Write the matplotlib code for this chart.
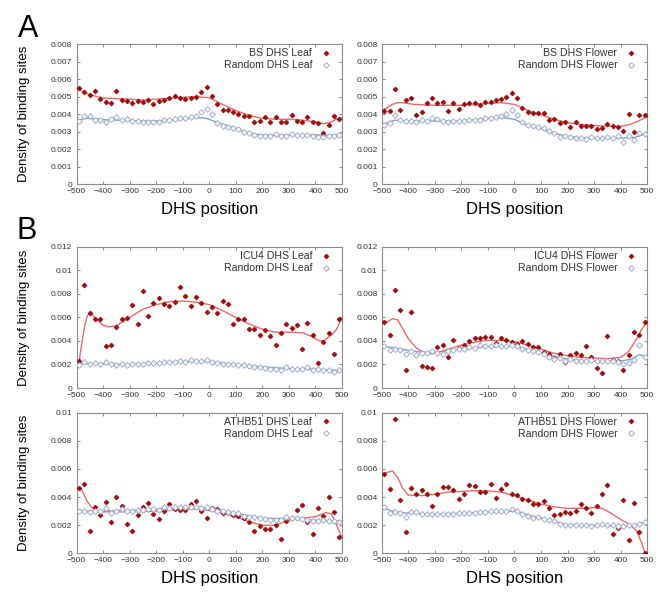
import numpy as np
import matplotlib.pyplot as plt

plt.rcParams['font.family'] = ['Liberation Sans', 'DejaVu Sans']

# positions of the binned points (bp relative to DHS centre)
pos = np.arange(-490, 500, 20)

# ---- panel A, leaf ----
bs_leaf = [5.50, 5.24, 5.10, 5.33, 4.88, 4.69, 4.65, 5.33, 4.82, 4.74,
           4.65, 4.76, 4.70, 4.82, 4.55, 4.76, 4.82, 4.91, 5.03, 4.93,
           4.88, 4.93, 4.97, 5.24, 5.56, 5.05, 4.57, 4.25, 4.25, 4.13,
           4.02, 3.89, 3.89, 3.56, 3.62, 3.83, 3.56, 3.81, 3.52, 3.52,
           3.92, 3.62, 3.52, 3.81, 3.52, 3.47, 2.91, 3.37, 3.90, 3.71]
rnd_leaf_a = [3.62, 3.87, 3.90, 3.66, 3.66, 3.56, 3.70, 3.83, 3.64, 3.71,
              3.62, 3.60, 3.54, 3.54, 3.52, 3.56, 3.64, 3.68, 3.70, 3.75,
              3.79, 3.83, 3.86, 4.10, 4.30, 3.98, 3.50, 3.31, 3.24, 3.20,
              3.14, 2.97, 2.90, 2.78, 2.72, 2.72, 2.74, 2.84, 2.74, 2.72,
              2.88, 2.80, 2.80, 2.82, 2.76, 2.69, 2.67, 2.72, 2.74, 2.80]
bs_leaf_fit_x = [-500, -450, -400, -350, -300, -250, -200, -150, -100, -50, 0, 25, 50, 100,
                 150, 200, 250, 300, 350, 400, 430, 460, 480, 500]
bs_leaf_fit = [5.45, 5.1, 4.92, 4.88, 4.85, 4.8, 4.85, 4.9, 4.95, 5.0, 4.92, 4.75, 4.55, 4.2,
               3.92, 3.75, 3.7, 3.7, 3.65, 3.55, 3.45, 3.55, 3.72, 3.78]
rnd_leaf_a_fit_x = [-500, -460, -420, -400, -300, -200, -100, -50, -20, 0, 25, 50, 75, 100,
                    130, 175, 200, 300, 400, 450, 500]
rnd_leaf_a_fit = [3.65, 3.75, 3.72, 3.68, 3.62, 3.6, 3.7, 3.8, 3.78, 3.7, 3.55, 3.42, 3.3, 3.17,
                  3.0, 2.85, 2.8, 2.8, 2.8, 2.78, 2.8]

# ---- panel A, flower ----
bs_flower = [4.19, 4.17, 5.41, 4.23, 4.78, 4.90, 3.96, 4.10, 4.65, 4.90,
             4.63, 4.70, 4.17, 4.63, 4.29, 4.55, 4.63, 4.65, 4.51, 4.70,
             4.69, 4.80, 4.86, 4.97, 5.22, 4.91, 4.32, 4.10, 4.04, 4.08,
             4.04, 3.68, 3.70, 3.50, 3.52, 3.26, 3.56, 3.33, 3.33, 3.31,
             3.16, 3.18, 3.43, 3.33, 3.26, 3.03, 4.00, 2.99, 3.94, 3.92]
rnd_flower_a = [3.37, 3.49, 3.92, 3.66, 3.58, 3.58, 3.52, 3.66, 3.62, 3.75,
                3.71, 3.62, 3.56, 3.58, 3.58, 3.62, 3.68, 3.66, 3.68, 3.79,
                3.75, 3.83, 3.90, 4.02, 4.21, 3.94, 3.54, 3.37, 3.31, 3.26,
                3.18, 3.05, 2.91, 2.70, 2.76, 2.69, 2.65, 2.65, 2.59, 2.69,
                2.65, 2.65, 2.69, 2.61, 2.72, 2.42, 2.76, 2.53, 2.93, 2.88]
bs_flower_fit_x = [-500, -480, -460, -440, -420, -380, -300, -200, -100, -50, 0, 50, 100,
                   150, 200, 250, 300, 350, 400, 430, 460, 480, 500]
bs_flower_fit = [4.2, 4.35, 4.55, 4.65, 4.65, 4.55, 4.5, 4.5, 4.6, 4.65, 4.55, 4.2, 3.95,
                 3.7, 3.5, 3.4, 3.35, 3.3, 3.3, 3.38, 3.55, 3.7, 3.85]
rnd_flower_a_fit_x = [-500, -470, -450, -400, -300, -200, -100, -50, 0, 50, 100, 150, 200,
                      250, 300, 350, 400, 450, 480, 500]
rnd_flower_a_fit = [3.4, 3.55, 3.65, 3.6, 3.6, 3.6, 3.75, 3.8, 3.7, 3.35, 3.15, 2.9, 2.72,
                    2.65, 2.65, 2.63, 2.63, 2.65, 2.8, 2.9]

# ---- panel B, ICU4 leaf ----
icu4_leaf = [2.27, 8.74, 6.41, 5.90, 5.90, 3.57, 3.69, 5.22, 5.90, 5.96,
             7.09, 5.48, 8.28, 6.13, 7.23, 7.69, 7.12, 6.95, 7.29, 8.57,
             7.83, 7.01, 7.72, 7.26, 6.47, 6.87, 6.38, 7.38, 7.12, 5.42,
             5.84, 5.90, 5.02, 5.05, 4.51, 4.91, 4.40, 3.63, 4.71, 5.45,
             5.08, 5.39, 3.35, 5.56, 4.48, 2.13, 3.89, 4.71, 2.87, 5.90]
rnd_leaf_b1 = [1.95, 2.25, 2.00, 2.15, 2.05, 2.20, 2.00, 1.98, 2.00, 1.98,
               2.03, 2.05, 2.08, 2.10, 2.10, 2.15, 2.25, 2.25, 2.25, 2.30,
               2.25, 2.35, 2.30, 2.30, 2.35, 2.20, 2.10, 2.05, 2.05, 2.00,
               1.98, 1.95, 1.85, 1.82, 1.75, 1.72, 1.65, 1.65, 1.55, 1.75,
               1.65, 1.65, 1.60, 1.75, 1.50, 1.60, 1.55, 1.50, 1.35, 1.50]
icu4_leaf_fit_x = [-490, -480, -470, -460, -450, -440, -420, -400, -380, -350, -300, -250,
                   -200, -150, -100, -50, 0, 50, 100, 150, 200, 250, 300, 350, 380, 410, 430,
                   460, 480, 500]
icu4_leaf_fit = [2.3, 3.8, 5.2, 6.1, 6.4, 6.25, 5.75, 5.35, 5.2, 5.3, 6.0, 6.7,
                 7.1, 7.35, 7.4, 7.3, 7.1, 6.6, 6.0, 5.45, 5.0, 4.75, 4.75, 4.7, 4.45, 4.05, 4.0,
                 4.5, 5.0, 6.0]
rnd_leaf_b1_fit_x = [-500, -450, -400, -300, -200, -100, 0, 100, 200, 300, 400, 450, 500]
rnd_leaf_b1_fit = [2.05, 2.1, 2.05, 2.0, 2.1, 2.25, 2.25, 2.0, 1.8, 1.65, 1.6, 1.55, 1.45]

# ---- panel B, ICU4 flower ----
icu4_flower = [5.62, 4.52, 8.33, 6.64, 1.50, 6.47, 2.80, 1.86, 1.81, 1.67,
               3.47, 3.67, 2.68, 4.12, 3.39, 3.70, 3.98, 4.24, 4.24, 4.35,
               4.32, 3.79, 4.27, 4.07, 3.95, 3.76, 3.98, 3.76, 3.53, 3.53,
               3.08, 2.88, 2.57, 2.91, 2.18, 2.82, 2.97, 2.80, 3.56, 2.68,
               1.67, 1.24, 4.46, 2.37, 2.29, 1.50, 2.82, 4.75, 4.52, 5.65]
rnd_flower_b1 = [3.59, 3.22, 3.36, 3.25, 2.88, 3.14, 2.77, 2.97, 2.97, 3.11,
                 3.02, 2.88, 3.16, 3.25, 3.31, 3.36, 3.47, 3.42, 3.62, 3.59,
                 3.59, 3.62, 3.56, 3.59, 3.70, 3.56, 3.31, 3.22, 3.14, 3.08,
                 2.91, 2.66, 2.46, 2.57, 2.34, 2.43, 2.34, 2.34, 2.32, 2.37,
                 2.26, 2.29, 2.34, 2.34, 2.18, 2.06, 2.12, 2.40, 3.62, 2.60]
icu4_flower_fit_x = [-500, -480, -460, -440, -420, -400, -370, -340, -320, -300, -250,
                     -200, -150, -100, -50, 0, 50, 100, 150, 200, 250, 300, 350, 400, 430,
                     450, 480, 500]
icu4_flower_fit = [5.7, 5.6, 5.9, 5.8, 5.0, 4.2, 3.4, 3.0, 2.9, 2.95, 3.3,
                   3.65, 3.9, 4.05, 4.05, 3.95, 3.65, 3.3, 2.95, 2.75, 2.6, 2.55, 2.5, 2.6, 3.1,
                   3.8, 5.0, 5.7]
rnd_flower_b1_fit_x = [-500, -450, -400, -350, -300, -200, -100, 0, 50, 100, 150, 200, 250,
                       300, 350, 400, 440, 470, 490, 500]
rnd_flower_b1_fit = [3.6, 3.4, 3.2, 3.05, 3.05, 3.3, 3.5, 3.55, 3.3, 3.0, 2.7, 2.45, 2.35,
                     2.3, 2.3, 2.3, 2.45, 2.85, 2.7, 2.6]

# ---- panel B, ATHB51 leaf ----
athb51_leaf = [4.67, 4.91, 1.61, 3.29, 2.70, 3.63, 2.25, 4.03, 3.34, 2.11,
               1.56, 2.75, 3.27, 3.55, 2.82, 2.42, 2.99, 3.53, 3.15, 3.06,
               3.08, 3.53, 3.70, 3.03, 2.49, 3.22, 3.15, 2.89, 2.94, 2.70,
               2.65, 2.54, 2.25, 1.61, 1.94, 1.71, 1.71, 2.01, 0.99, 2.30,
               2.54, 3.08, 3.41, 2.25, 1.35, 3.25, 2.63, 3.98, 2.91, 1.18]
rnd_leaf_b2 = [2.99, 2.99, 2.91, 3.03, 3.03, 3.22, 2.89, 3.03, 3.15, 3.03,
               3.03, 3.06, 3.06, 3.18, 3.13, 3.08, 3.27, 3.22, 3.27, 3.32,
               3.29, 3.27, 3.27, 3.20, 3.29, 3.18, 3.03, 2.99, 2.94, 2.84,
               2.84, 2.68, 2.61, 2.56, 2.49, 2.46, 2.35, 2.37, 2.39, 2.61,
               2.49, 2.49, 2.44, 2.37, 2.30, 2.32, 2.37, 2.27, 2.27, 2.25]
athb51_leaf_fit_x = [-500, -480, -460, -440, -420, -400, -300, -200, -100, -50, 0, 50, 100,
                     150, 200, 250, 300, 350, 400, 440, 460, 480, 500]
athb51_leaf_fit = [4.7, 4.5, 3.7, 3.2, 3.0, 2.95, 2.95, 3.0, 3.15, 3.15, 3.05, 2.85, 2.6,
                   2.25, 2.0, 2.0, 2.35, 2.5, 2.6, 2.9, 2.8, 2.0, 1.1]
rnd_leaf_b2_fit_x = [-500, -400, -300, -200, -100, 0, 100, 200, 300, 400, 500]
rnd_leaf_b2_fit = [3.0, 3.0, 3.05, 3.15, 3.3, 3.25, 2.85, 2.5, 2.45, 2.35, 2.3]

# ---- panel B, ATHB51 flower ----
athb51_flower = [5.64, 4.55, 9.55, 3.77, 1.49, 4.67, 4.24, 4.53, 4.22, 3.34,
                 4.22, 4.74, 4.74, 4.48, 3.84, 4.22, 4.83, 4.76, 4.38, 4.38,
                 4.91, 3.91, 4.60, 4.91, 4.19, 4.17, 3.89, 3.82, 3.48, 3.53,
                 3.70, 3.20, 2.75, 2.82, 2.96, 2.84, 3.03, 3.51, 3.20, 2.84,
                 3.36, 4.22, 4.86, 1.37, 1.78, 3.77, 0.95, 3.55, 1.49, 0.0]
rnd_flower_b2 = [3.27, 2.89, 2.96, 2.87, 2.61, 2.94, 2.91, 2.77, 2.82, 2.82,
                 2.77, 2.82, 2.80, 2.77, 2.84, 2.84, 2.87, 2.84, 2.96, 2.94,
                 3.01, 2.99, 2.99, 3.01, 3.13, 3.03, 2.77, 2.68, 2.54, 2.56,
                 2.46, 2.37, 2.30, 2.09, 2.01, 1.99, 2.01, 1.99, 1.99, 1.97,
                 2.01, 2.11, 1.99, 2.01, 1.92, 1.94, 1.99, 1.99, 2.09, 2.25]
athb51_flower_fit_x = [-500, -480, -460, -440, -420, -400, -350, -300, -250, -200, -150,
                       -100, -50, 0, 50, 100, 150, 200, 250, 300, 330, 360, 400, 430, 460,
                       480, 500]
athb51_flower_fit = [5.65, 5.75, 5.85, 5.4, 4.6, 4.15, 4.1, 4.2, 4.35, 4.4, 4.45,
                     4.45, 4.35, 4.1, 3.8, 3.5, 3.3, 3.2, 3.2, 3.25, 3.2, 2.9, 2.4, 2.1, 1.6,
                     0.7, -0.5]
rnd_flower_b2_fit_x = [-500, -450, -400, -300, -200, -100, 0, 50, 100, 150, 200, 300, 400,
                       450, 500]
rnd_flower_b2_fit = [3.25, 2.95, 2.85, 2.8, 2.85, 2.95, 3.0, 2.75, 2.5, 2.25, 2.05, 2.0, 1.95,
                     2.0, 2.25]

xticks = list(range(-500, 501, 100))

RED_PT = '#9a0a0a'
RED_LN = '#e86a6a'
BLUE_PT = '#a0acc8'
BLUE_LN = '#7f9fd8'
FRAME = '#8c8c8c'


def draw_panel(ax, tf, tf_fit_x, tf_fit, rnd, rnd_fit_x, rnd_fit, tf_label, rnd_label,
               ymax, ystep):
    scale = 1e-3
    ax.plot(np.array(rnd_fit_x), np.array(rnd_fit) * scale, color=BLUE_LN, lw=1.0, zorder=2)
    ax.plot(np.array(tf_fit_x), np.array(tf_fit) * scale, color=RED_LN, lw=1.0, zorder=2)
    ax.plot(pos, np.array(tf) * scale, ls='none', marker='D', ms=2.6, mfc=RED_PT,
            mec=RED_PT, mew=0.4, label=tf_label, zorder=3)
    ax.plot(pos, np.array(rnd) * scale, ls='none', marker='D', ms=2.9, mfc='white',
            mec=BLUE_PT, mew=0.7, label=rnd_label, zorder=3)
    ax.set_xlim(-500, 500)
    ax.set_ylim(0, ymax)
    ax.set_xticks(xticks)
    yt = np.arange(0, ymax + ystep / 2, ystep)
    ax.set_yticks(yt)
    ax.set_yticklabels(['%g' % round(v, 4) for v in yt])
    ax.tick_params(direction='in', top=True, right=True, length=2.5, width=0.6,
                   color='#777777', labelsize=6, labelcolor='#333333', pad=3)
    for s in ax.spines.values():
        s.set_color(FRAME)
        s.set_linewidth(0.8)
    ax.legend(loc='upper right', frameon=False, markerfirst=False, fontsize=7.6,
              handlelength=1.0, handletextpad=0.8, labelspacing=0.2,
              borderaxespad=0.3, borderpad=0.1, labelcolor='#333333',
              bbox_to_anchor=(0.975, 1.0))


fig = plt.figure(figsize=(6.67, 5.94), dpi=100)

lx, rx, w = 0.1147, 0.5723, 0.398
ax1 = fig.add_axes([lx, 0.6902, w, 0.2357])
ax2 = fig.add_axes([rx, 0.6902, w, 0.2357])
ax3 = fig.add_axes([lx, 0.3468, w, 0.2374])
ax4 = fig.add_axes([rx, 0.3468, w, 0.2374])
ax5 = fig.add_axes([lx, 0.0685, w, 0.2367])
ax6 = fig.add_axes([rx, 0.0685, w, 0.2367])

draw_panel(ax1, bs_leaf, bs_leaf_fit_x, bs_leaf_fit, rnd_leaf_a, rnd_leaf_a_fit_x,
           rnd_leaf_a_fit, 'BS DHS Leaf', 'Random DHS Leaf', 0.008, 0.001)
draw_panel(ax2, bs_flower, bs_flower_fit_x, bs_flower_fit, rnd_flower_a, rnd_flower_a_fit_x,
           rnd_flower_a_fit, 'BS DHS Flower', 'Random DHS Flower', 0.008, 0.001)
draw_panel(ax3, icu4_leaf, icu4_leaf_fit_x, icu4_leaf_fit, rnd_leaf_b1, rnd_leaf_b1_fit_x,
           rnd_leaf_b1_fit, 'ICU4 DHS Leaf', 'Random DHS Leaf', 0.012, 0.002)
draw_panel(ax4, icu4_flower, icu4_flower_fit_x, icu4_flower_fit, rnd_flower_b1,
           rnd_flower_b1_fit_x, rnd_flower_b1_fit, 'ICU4 DHS Flower', 'Random DHS Flower',
           0.012, 0.002)
draw_panel(ax5, athb51_leaf, athb51_leaf_fit_x, athb51_leaf_fit, rnd_leaf_b2,
           rnd_leaf_b2_fit_x, rnd_leaf_b2_fit, 'ATHB51 DHS Leaf', 'Random DHS Leaf',
           0.010, 0.002)
draw_panel(ax6, athb51_flower, athb51_flower_fit_x, athb51_flower_fit, rnd_flower_b2,
           rnd_flower_b2_fit_x, rnd_flower_b2_fit, 'ATHB51 DHS Flower', 'Random DHS Flower',
           0.010, 0.002)

for ax in (ax1, ax2, ax5, ax6):
    ax.set_xlabel('DHS position', fontsize=12, labelpad=5)
for ax in (ax1, ax3, ax5):
    ax.set_ylabel('Density of binding sites', fontsize=9.5)
    ax.yaxis.set_label_coords(-0.175, 0.5)

fig.text(0.027, 0.937, 'A', fontsize=22)
fig.text(0.025, 0.597, 'B', fontsize=22)

fig.savefig('out.png', dpi=100)
